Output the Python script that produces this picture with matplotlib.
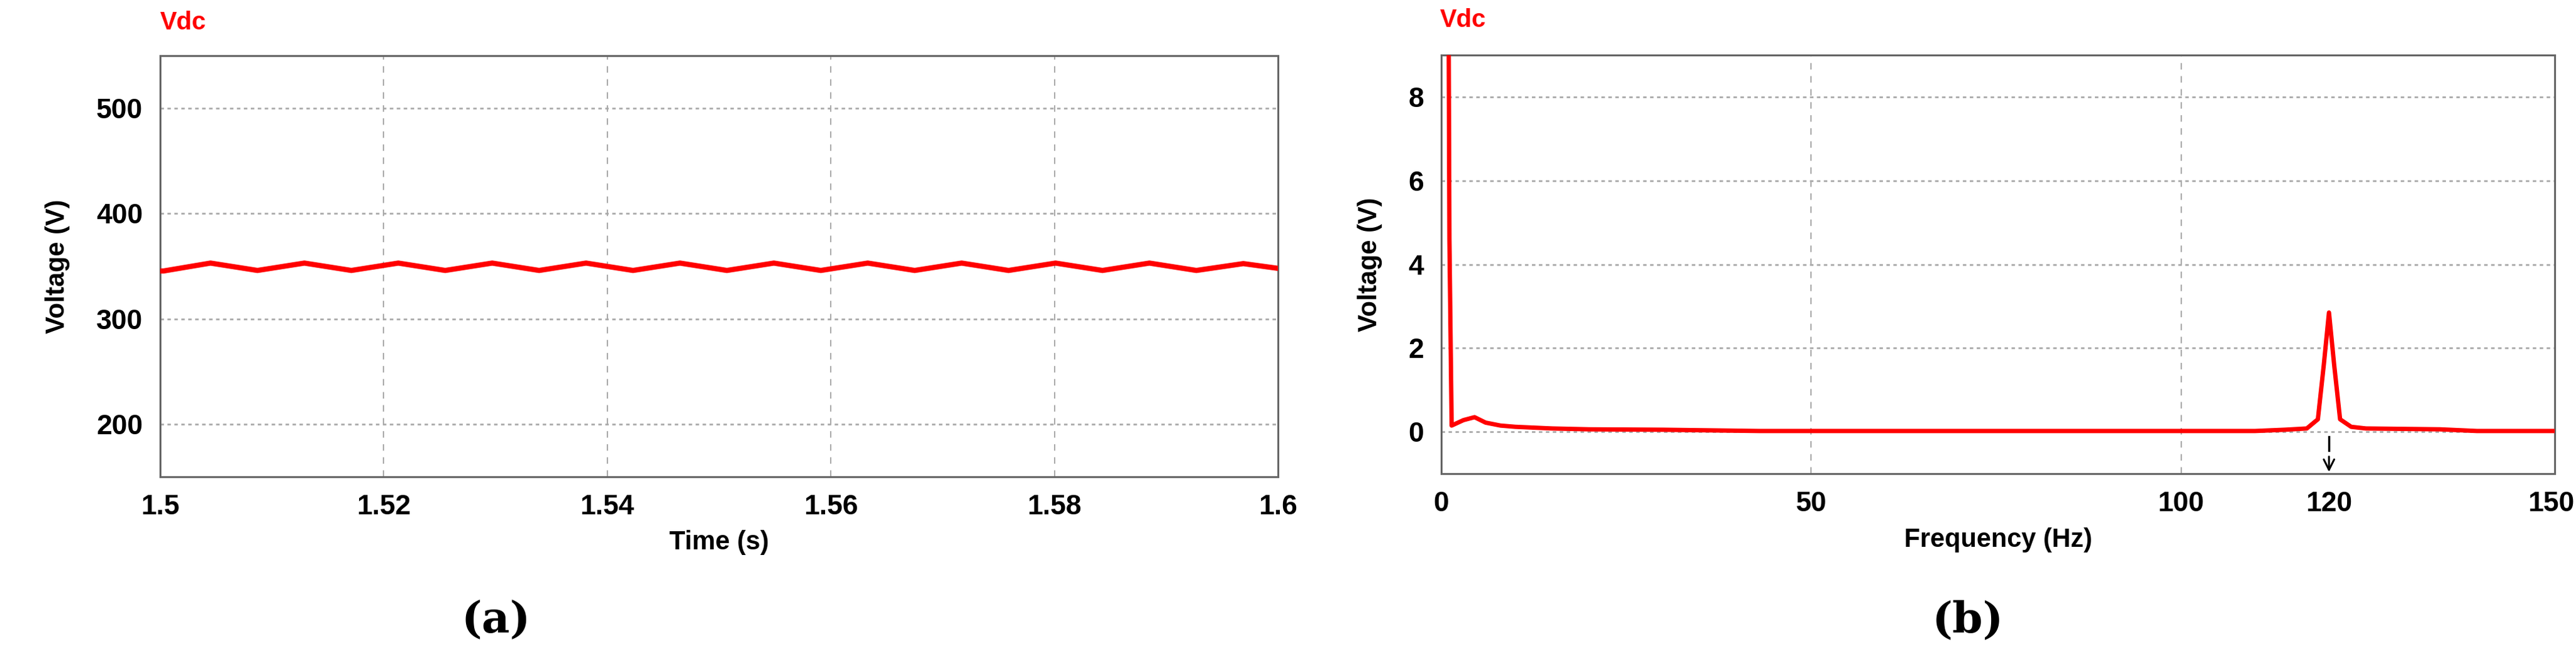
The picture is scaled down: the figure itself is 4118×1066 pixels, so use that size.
import matplotlib
matplotlib.use("Agg")
import matplotlib.pyplot as plt

plt.rcParams.update({
    'font.family': ['Liberation Sans', 'DejaVu Sans'],
    'font.weight': 'bold',
})

RED = '#FF0000'

# ---- (a) DC-link voltage, ripple peaks/troughs ----
t_vdc = [1.5000, 1.5003, 1.5045, 1.5087, 1.5129, 1.5171, 1.5213, 1.5255, 1.5297,
         1.5339, 1.5381, 1.5423, 1.5465, 1.5507, 1.5549, 1.5591, 1.5633, 1.5675,
         1.5717, 1.5759, 1.5801, 1.5843, 1.5885, 1.5927, 1.5969, 1.6000]
v_vdc = [345.5, 345.5, 353.0, 346.0, 353.0, 346.0, 353.0, 346.0, 353.0,
         346.0, 353.0, 346.0, 353.0, 346.0, 353.0, 346.0, 353.0, 346.0,
         353.0, 346.0, 353.0, 346.0, 353.0, 346.0, 352.5, 348.0]
a_xticks = [1.5, 1.52, 1.54, 1.56, 1.58, 1.6]
a_xticklabels = ['1.5', '1.52', '1.54', '1.56', '1.58', '1.6']
a_yticks = [200, 300, 400, 500]

# ---- (b) spectrum of Vdc ----
f_spec = [0.0, 0.9, 1.0, 1.1, 1.4, 3.0, 4.5, 6.0, 8.0, 10.0, 15.0, 20.0, 30.0,
          43.0, 60.0, 80.0, 100.0, 110.0, 114.0, 117.0, 118.5, 119.3, 120.0,
          120.7, 121.5, 123.0, 125.0, 135.0, 140.0, 150.5]
a_spec = [12.0, 12.0, 9.5, 4.6, 0.15, 0.28, 0.35, 0.22, 0.15, 0.12, 0.08, 0.06,
          0.05, 0.02, 0.02, 0.02, 0.02, 0.02, 0.05, 0.08, 0.3, 1.6, 2.85,
          1.6, 0.3, 0.12, 0.08, 0.06, 0.02, 0.02]
b_xticks = [0, 50, 100, 120, 150]
b_xgrid = [50, 100]
b_yticks = [0, 2, 4, 6, 8]
PEAK_F = 120

fig = plt.figure(figsize=(41.18, 10.66), dpi=100)
ax1 = fig.add_axes([0.0622, 0.2852, 0.4339, 0.6313])
ax2 = fig.add_axes([0.5595, 0.2898, 0.4322, 0.6275])


def style(ax):
    for sp in ax.spines.values():
        sp.set_color('#666666')
        sp.set_linewidth(2.2)
    ax.tick_params(length=0, labelsize=32, pad=20)
    for lab in ax.get_xticklabels() + ax.get_yticklabels():
        lab.set_fontweight('bold')


# (a)
ax1.plot(t_vdc, v_vdc, color=RED, lw=6, zorder=3)
ax1.set_xlim(1.5, 1.6)
ax1.set_ylim(150, 550)
ax1.set_xticks(a_xticks)
ax1.set_xticklabels(a_xticklabels)
ax1.set_yticks(a_yticks)
for x in a_xticks[1:-1]:
    ax1.axvline(x, color='#AAAAAA', lw=1.5, ls=(0, (5, 5)), zorder=1)
for y in a_yticks:
    ax1.axhline(y, color='#AAAAAA', lw=2.0, ls=(0, (2, 2)), zorder=1)
ax1.set_xlabel('Time (s)', fontsize=30, fontweight='bold', labelpad=12)
ax1.set_ylabel('Voltage (V)', fontsize=30, fontweight='bold', labelpad=30)
style(ax1)

# (b)
ax2.plot(f_spec, a_spec, color=RED, lw=5, zorder=3)
ax2.set_xlim(0, 150.5)
ax2.set_ylim(-1, 9)
ax2.set_xticks(b_xticks)
ax2.set_yticks(b_yticks)
for x in b_xgrid:
    ax2.axvline(x, color='#AAAAAA', lw=1.5, ls=(0, (5, 5)), zorder=1)
for y in b_yticks:
    ax2.axhline(y, color='#AAAAAA', lw=2.0, ls=(0, (2, 2)), zorder=1)
ax2.plot([PEAK_F, PEAK_F], [-0.12, -0.45], color='black', lw=2.5, zorder=4)
ax2.annotate('', xy=(PEAK_F, -1.0), xytext=(PEAK_F, -0.55),
             arrowprops=dict(arrowstyle='->', color='black', lw=2.2,
                             mutation_scale=30), zorder=4)
ax2.set_xlabel('Frequency (Hz)', fontsize=30, fontweight='bold', labelpad=12)
ax2.set_ylabel('Voltage (V)', fontsize=30, fontweight='bold', labelpad=30)
style(ax2)

# series titles
fig.text(256 / 4118, 0.966, 'Vdc', color=RED, fontsize=29, fontweight='bold',
         ha='left', va='center')
fig.text(2302 / 4118, 0.970, 'Vdc', color=RED, fontsize=29, fontweight='bold',
         ha='left', va='center')

# panel labels
fig.text(0.1926, 0.07, '(a)', fontsize=50, fontweight='bold',
         family='DejaVu Serif', ha='center', va='center')
fig.text(0.764, 0.07, '(b)', fontsize=50, fontweight='bold',
         family='DejaVu Serif', ha='center', va='center')

fig.savefig('out.png', dpi=100, facecolor='white')
